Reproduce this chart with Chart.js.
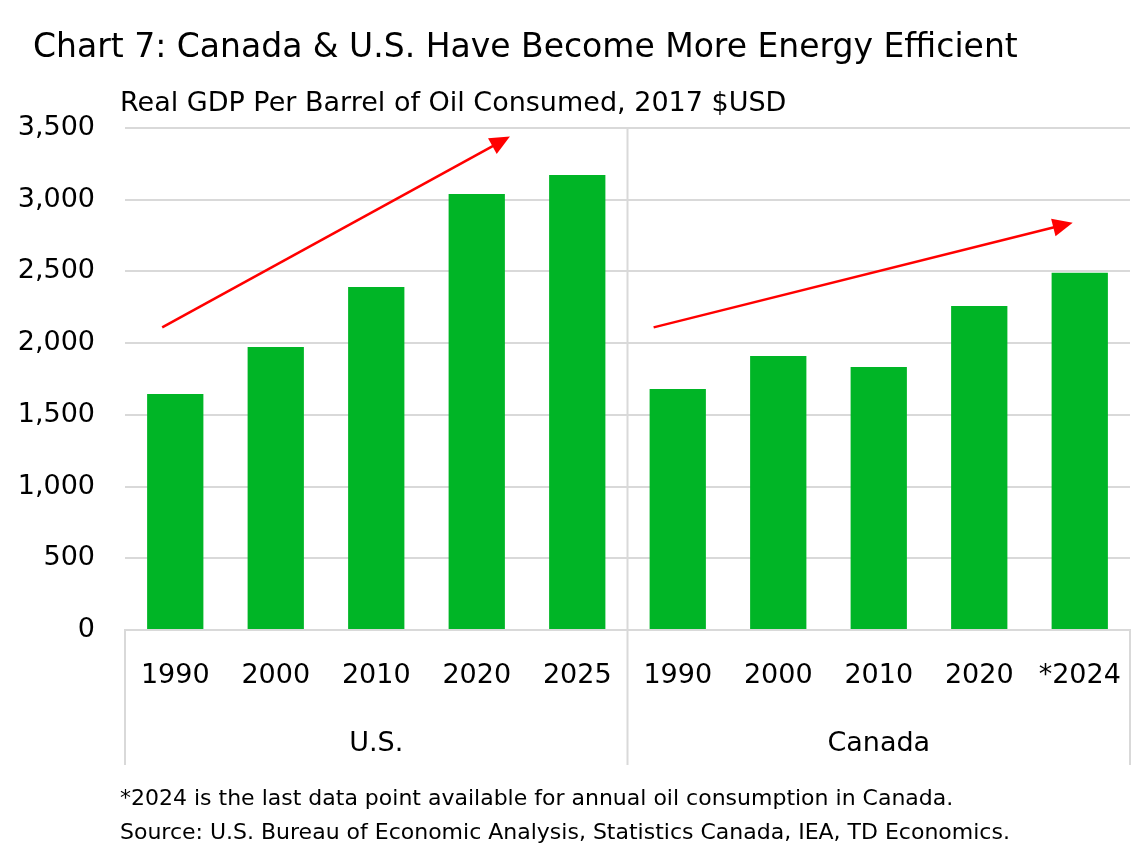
<!DOCTYPE html>
<html><head><meta charset="utf-8">
<script src="https://cdn.jsdelivr.net/npm/chart.js@4"></script>
<style>html,body{margin:0;padding:0;background:#fff}#w{width:1145px;height:850px;position:relative}</style>
</head><body><div id="w"><canvas id="c"></canvas></div>
<script>
const categories = ["1990","2000","2010","2020","2025","1990","2000","2010","2020","*2024"];
const groups = ["U.S.","Canada"];
const values = [1646,1973,2392,3040,3173,1681,1911,1834,2259,2490];
const yTicks = [0,500,1000,1500,2000,2500,3000,3500];
const title = "Chart 7: Canada & U.S. Have Become More Energy Efficient";
const subtitle = "Real GDP Per Barrel of Oil Consumed, 2017 $USD";
const notes = ["*2024 is the last data point available for annual oil consumption in Canada.",
 "Source: U.S. Bureau of Economic Analysis, Statistics Canada, IEA, TD Economics."];
// arrows: [startIndex, startValue, endIndex, endValue]
const arrows = [[-0.13,2110,3.33,3440],[4.76,2110,8.93,2840]];
const F = "'DejaVu Sans', sans-serif";
function fitText(c,t,x,y,w){c.fillText(t,x,y,w);}
const deco = {id:'deco', afterDraw(ch){
  const c=ch.ctx, a=ch.chartArea, x=ch.scales.x, y=ch.scales.y;
  c.save();
  c.fillStyle='#000'; c.textBaseline='alphabetic';
  c.font='33px '+F; c.textAlign='left'; fitText(c,title,33,57,1067);
  c.font='27px '+F; fitText(c,subtitle,120,111,740);
  c.font='22px '+F; fitText(c,notes[0],120,805,905); fitText(c,notes[1],120,839,935);
  c.strokeStyle='#d9d9d9'; c.lineWidth=2;
  const mid=(x.getPixelForValue(4)+x.getPixelForValue(5))/2;
  c.beginPath();
  c.moveTo(a.left,a.bottom); c.lineTo(a.left,765);
  c.moveTo(mid,a.top); c.lineTo(mid,765);
  c.moveTo(a.right,a.bottom); c.lineTo(a.right,765);
  c.stroke();
  c.font='27px '+F; c.textAlign='center';
  c.fillText(groups[0],(a.left+mid)/2,751); c.fillText(groups[1],(mid+a.right)/2,751);
  const step=x.getPixelForValue(1)-x.getPixelForValue(0);
  arrows.forEach(r=>{
    const x1=x.getPixelForValue(0)+r[0]*step, y1=y.getPixelForValue(r[1]);
    const x2=x.getPixelForValue(0)+r[2]*step, y2=y.getPixelForValue(r[3]);
    const ang=Math.atan2(y2-y1,x2-x1), L=20;
    c.strokeStyle='#ff0000'; c.fillStyle='#ff0000'; c.lineWidth=2.5;
    c.beginPath(); c.moveTo(x1,y1); c.lineTo(x2-L*0.8*Math.cos(ang),y2-L*0.8*Math.sin(ang)); c.stroke();
    c.beginPath(); c.moveTo(x2,y2);
    c.lineTo(x2-L*Math.cos(ang)+9*Math.sin(ang),y2-L*Math.sin(ang)-9*Math.cos(ang));
    c.lineTo(x2-L*Math.cos(ang)-9*Math.sin(ang),y2-L*Math.sin(ang)+9*Math.cos(ang));
    c.closePath(); c.fill();
  });
  c.restore();
}};
new Chart(document.getElementById('c'),{
  type:'bar',
  data:{labels:categories,datasets:[{data:values,backgroundColor:'#00b526',barPercentage:0.56,categoryPercentage:1}]},
  options:{responsive:true,maintainAspectRatio:false,animation:false,
    layout:{padding:{left:0,right:15,top:128,bottom:150}},
    plugins:{legend:{display:false},tooltip:{enabled:false},title:{display:false}},
    scales:{
      x:{grid:{display:false},border:{color:'#d9d9d9',width:2},
         ticks:{color:'#000',font:{family:F,size:27},padding:22,maxRotation:0,autoSkip:false},
         afterFit(s){s.height=70;}},
      y:{min:0,max:3500,grid:{color:'#d9d9d9',lineWidth:2,drawTicks:false},border:{display:false},
         afterBuildTicks(s){s.ticks=yTicks.map(v=>({value:v}));},
         ticks:{color:'#000',font:{family:F,size:27},padding:30,callback:v=>v.toLocaleString('en-US')},
         afterFit(s){s.width=125;}}
    }},
  plugins:[deco]
});
</script></body></html>
